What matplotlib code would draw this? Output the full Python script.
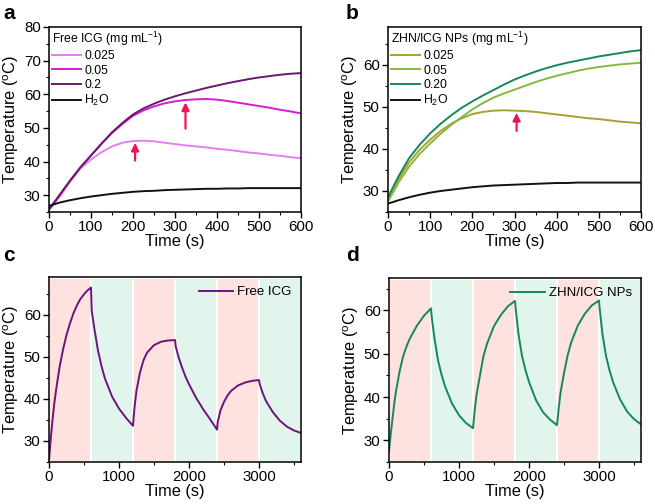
import matplotlib
matplotlib.use('Agg')
import matplotlib.pyplot as plt
from matplotlib.ticker import MultipleLocator

plt.rcParams['font.family'] = ['Liberation Sans', 'DejaVu Sans']
plt.rcParams['mathtext.fontset'] = 'custom'
plt.rcParams['mathtext.rm'] = 'Liberation Sans'
plt.rcParams['mathtext.it'] = 'Liberation Sans:italic'
plt.rcParams['mathtext.bf'] = 'Liberation Sans:bold'

# ---- panels a/b: heating curves at different concentrations (time in s)
t_conc = list(range(0, 625, 25))

icg_0025 = [25.5, 29.5, 34.0, 38.0, 40.6, 42.8, 44.5, 45.6, 46.1, 46.2, 46.0, 45.6, 45.2,
            44.8, 44.5, 44.2, 43.8, 43.5, 43.1, 42.7, 42.4, 42.0, 41.7, 41.3, 41.0]
icg_005 = [25.8, 30.0, 34.3, 38.3, 41.8, 45.3, 48.5, 51.2, 53.6, 55.2, 56.4, 57.3, 57.9,
           58.3, 58.5, 58.6, 58.4, 58.0, 57.5, 57.0, 56.5, 56.0, 55.4, 54.9, 54.3]
icg_02 = [25.8, 30.0, 34.3, 38.3, 41.8, 45.3, 48.7, 51.5, 54.0, 55.8, 57.2, 58.4, 59.4,
          60.3, 61.1, 61.9, 62.6, 63.3, 63.9, 64.5, 65.0, 65.4, 65.8, 66.1, 66.3]
water_a = [26.8, 27.8, 28.5, 29.1, 29.6, 30.0, 30.4, 30.7, 31.0, 31.2, 31.3, 31.5, 31.6,
           31.7, 31.8, 31.9, 31.9, 32.0, 32.0, 32.1, 32.1, 32.1, 32.1, 32.1, 32.1]

zhn_0025 = [28.0, 32.8, 36.8, 39.8, 42.2, 44.3, 46.0, 47.3, 48.3, 48.8, 49.1, 49.2, 49.1,
            49.0, 48.8, 48.5, 48.2, 47.9, 47.6, 47.3, 47.1, 46.8, 46.5, 46.3, 46.1]
zhn_005 = [27.5, 32.0, 35.8, 38.8, 41.3, 43.6, 45.7, 47.6, 49.4, 50.9, 52.2, 53.2, 54.1,
           55.0, 55.9, 56.7, 57.4, 58.0, 58.6, 59.1, 59.5, 59.8, 60.1, 60.3, 60.5]
zhn_020 = [28.5, 33.5, 37.8, 41.0, 43.7, 46.0, 48.0, 49.8, 51.3, 52.7, 54.0, 55.3, 56.5,
           57.5, 58.4, 59.2, 59.9, 60.5, 61.0, 61.5, 62.0, 62.4, 62.8, 63.2, 63.5]
water_b = [27.0, 27.8, 28.5, 29.1, 29.6, 30.0, 30.3, 30.6, 30.9, 31.1, 31.3, 31.4, 31.5,
           31.6, 31.7, 31.8, 31.9, 31.9, 32.0, 32.0, 32.0, 32.0, 32.0, 32.0, 32.0]

# ---- panel c: on/off cycles, free ICG
t_cyc_c = [0, 25, 50, 75, 100, 150, 200, 250, 300, 350, 400, 450, 500, 550, 600,
           610, 650, 700, 750, 800, 900, 1000, 1100, 1200,
           1210, 1225, 1250, 1300, 1350, 1400, 1500, 1600, 1700, 1800,
           1810, 1850, 1900, 1950, 2000, 2100, 2200, 2300, 2400,
           2410, 2450, 2500, 2550, 2600, 2700, 2800, 2900, 3000,
           3010, 3050, 3100, 3200, 3300, 3400, 3500, 3600]
temp_c = [25.5, 30.5, 35.0, 38.8, 42.0, 47.5, 51.7, 55.2, 58.0, 60.4, 62.3, 63.8, 64.9, 65.8, 66.5,
          61.0, 56.5, 51.5, 47.8, 44.8, 40.6, 37.7, 35.5, 33.6,
          35.8, 38.5, 42.0, 46.3, 49.2, 51.0, 52.8, 53.6, 53.9, 54.0,
          52.5, 50.0, 47.5, 45.3, 43.5, 40.3, 37.6, 35.2, 32.7,
          34.5, 37.3, 39.3, 40.8, 41.9, 43.2, 43.9, 44.3, 44.5,
          43.5, 41.5, 39.5, 36.8, 34.8, 33.4, 32.5, 31.9]

# ---- panel d: on/off cycles, ZHN/ICG NPs
t_cyc_d = [0, 25, 50, 75, 100, 150, 200, 250, 300, 400, 500, 600,
           610, 650, 700, 750, 800, 900, 1000, 1100, 1200,
           1225, 1250, 1300, 1350, 1400, 1500, 1600, 1700, 1800,
           1810, 1850, 1900, 1950, 2000, 2100, 2200, 2300, 2400,
           2425, 2450, 2500, 2550, 2600, 2700, 2800, 2900, 3000,
           3010, 3050, 3100, 3150, 3200, 3300, 3400, 3500, 3600]
temp_d = [27.5, 31.5, 35.0, 38.5, 41.3, 45.8, 49.3, 51.7, 53.6, 56.5, 58.8, 60.5,
          58.5, 53.5, 48.5, 45.2, 42.5, 38.5, 35.8, 34.0, 32.8,
          37.0, 40.5, 45.0, 49.5, 52.3, 56.4, 59.0, 61.0, 62.2,
          60.3, 54.5, 49.5, 46.2, 43.5, 39.3, 36.5, 34.8, 33.5,
          37.5, 41.0, 45.5, 49.5, 52.5, 56.6, 59.3, 61.2, 62.3,
          60.3, 54.5, 49.5, 46.2, 43.5, 39.5, 36.7, 34.9, 33.7]

laser_on = [(0, 600), (1200, 1800), (2400, 3000)]
laser_off = [(600, 1200), (1800, 2400), (3000, 3600)]

# arrows marking the peak (x, y_start, y_end)
arrows_a = [(205, 40.3, 45.6), (325, 49.8, 57.6)]
arrows_b = [(305, 44.3, 48.6)]

W, H = 655, 504
fig = plt.figure(figsize=(W / 100, H / 100), dpi=100)


def box(l, t, r, b):
    return [l / W, 1 - b / H, (r - l) / W, (b - t) / H]


ax_a = fig.add_axes(box(49, 27, 301, 212))
ax_b = fig.add_axes(box(388, 27, 641, 212))
ax_c = fig.add_axes(box(49, 277, 301, 462))
ax_d = fig.add_axes(box(389, 278, 641, 462))


def style(ax, xmaj, xmin, ymin_loc=5):
    ax.xaxis.set_major_locator(MultipleLocator(xmaj))
    ax.xaxis.set_minor_locator(MultipleLocator(xmin))
    ax.yaxis.set_major_locator(MultipleLocator(10))
    ax.yaxis.set_minor_locator(MultipleLocator(ymin_loc))
    ax.tick_params(which='major', direction='out', length=4, width=1, labelsize=10.8, pad=2)
    ax.tick_params(which='minor', direction='out', length=2.2, width=0.8)
    for s in ax.spines.values():
        s.set_linewidth(1.1)
    ax.set_xlabel('Time (s)', fontsize=11.8, labelpad=0)
    ax.set_ylabel('Temperature ($^{\\mathrm{o}}$C)', fontsize=11.8, labelpad=2)


def arrow(ax, x, y0, y1):
    ax.annotate('', xy=(x, y1), xytext=(x, y0),
                arrowprops=dict(arrowstyle='-|>,head_length=0.45,head_width=0.22',
                                color='#ee1552', lw=1.6, shrinkA=0, shrinkB=0))


lw = 1.4
leg_kw = dict(loc='upper left', frameon=False, fontsize=8.8, handlelength=2.4,
              handletextpad=0.25, labelspacing=0.18, borderaxespad=0.1,
              borderpad=0.15, alignment='left', title_fontsize=8.8)

# a
ax_a.plot(t_conc, icg_0025, color='#e47ef0', lw=lw, label='0.025')
ax_a.plot(t_conc, icg_005, color='#d41ed6', lw=lw, label='0.05')
ax_a.plot(t_conc, icg_02, color='#6a1a6e', lw=lw, label='0.2')
ax_a.plot(t_conc, water_a, color='#111111', lw=lw, label='H$_2$O')
for x, y0, y1 in arrows_a:
    arrow(ax_a, x, y0, y1)
ax_a.set_xlim(0, 600)
ax_a.set_ylim(25, 80)
style(ax_a, 100, 50)
ax_a.legend(title='Free ICG (mg mL$^{-1}$)', **leg_kw)

# b
ax_b.plot(t_conc, zhn_0025, color='#aaa033', lw=lw, label='0.025')
ax_b.plot(t_conc, zhn_005, color='#86b83e', lw=lw, label='0.05')
ax_b.plot(t_conc, zhn_020, color='#14885a', lw=lw, label='0.20')
ax_b.plot(t_conc, water_b, color='#111111', lw=lw, label='H$_2$O')
for x, y0, y1 in arrows_b:
    arrow(ax_b, x, y0, y1)
ax_b.set_xlim(0, 600)
ax_b.set_ylim(25, 69)
style(ax_b, 100, 50)
ax_b.legend(title='ZHN/ICG NPs (mg mL$^{-1}$)', **leg_kw)

# c, d
for ax, t, y, col, lab, top in [(ax_c, t_cyc_c, temp_c, '#6b1479', 'Free ICG', 69),
                                (ax_d, t_cyc_d, temp_d, '#14885a', 'ZHN/ICG NPs', 67.5)]:
    for x0, x1 in laser_on:
        ax.axvspan(x0 + 9, x1 - 9, ymin=0.006, ymax=0.988, color='#fde2df', lw=0)
    for x0, x1 in laser_off:
        ax.axvspan(x0 + 9, x1 - 9, ymin=0.006, ymax=0.988, color='#e2f5ec', lw=0)
    ax.plot(t, y, color=col, lw=lw, label=lab)
    ax.set_xlim(0, 3600)
    ax.set_ylim(25, top)
    style(ax, 1000, 500)
    ax.legend(loc='upper right', frameon=False, fontsize=9.5, handlelength=2.6,
              handletextpad=0.3, borderaxespad=0.3)

for lab, x, y in [('a', 3, 19), ('b', 346, 19), ('c', 3, 261), ('d', 346, 261)]:
    fig.text(x / W, 1 - y / H, lab, fontsize=15, fontweight='bold', ha='left', va='baseline')

fig.savefig('out.png', dpi=100)
